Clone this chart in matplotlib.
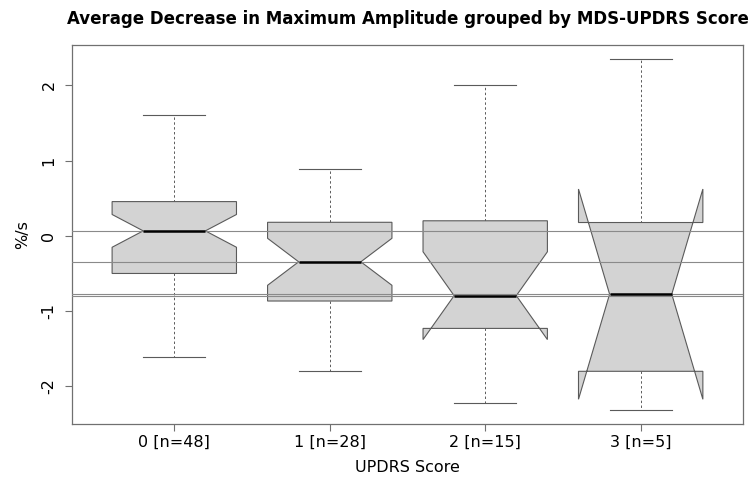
import numpy as np
import matplotlib
matplotlib.use("Agg")
import matplotlib.pyplot as plt
from matplotlib.patches import Polygon

# Group summaries (five-number summaries per UPDRS score)
labels = ["0 [n=48]", "1 [n=28]", "2 [n=15]", "3 [n=5]"]
counts = [48, 28, 15, 5]
whisker_low = [-1.605, -1.79, -2.22, -2.31]
q1 = [-0.50, -0.866, -1.23, -1.80]
medians = [0.066, -0.345, -0.795, -0.775]
q3 = [0.455, 0.18, 0.20, 0.177]
whisker_high = [1.61, 0.889, 2.0, 2.35]

edge = "#5a5a5a"
fill = "#d3d3d3"
ref_col = "#8a8a8a"

fig = plt.figure(figsize=(7.53, 4.8), dpi=100)
ax = fig.add_axes([0.0952, 0.1167, 0.8919, 0.7902])

half = 0.4          # half box width
notch_frac = 0.5
staple = 0.2        # half cap width

for i in range(len(labels)):
    x = i + 1
    n = counts[i]
    iqr = q3[i] - q1[i]
    ci = 1.58 * iqr / np.sqrt(n)
    lo, hi = medians[i] - ci, medians[i] + ci
    xs = x + half * np.array([-1, 1, 1, notch_frac, 1, 1, -1, -1, -notch_frac, -1])
    ys = [q1[i], q1[i], lo, medians[i], hi, q3[i], q3[i], hi, medians[i], lo]
    ax.add_patch(Polygon(np.column_stack([xs, ys]), closed=True,
                         facecolor=fill, edgecolor=edge, linewidth=0.8, zorder=2))
    # whiskers
    ax.plot([x, x], [q3[i], whisker_high[i]], color=edge, lw=0.7,
            ls=(0, (2.5, 2.5)), zorder=1)
    ax.plot([x, x], [q1[i], whisker_low[i]], color=edge, lw=0.7,
            ls=(0, (2.5, 2.5)), zorder=1)
    # staples
    ax.plot([x - staple, x + staple], [whisker_high[i]] * 2, color=edge, lw=0.8, zorder=1)
    ax.plot([x - staple, x + staple], [whisker_low[i]] * 2, color=edge, lw=0.8, zorder=1)
    # median
    ax.plot([x - half * notch_frac, x + half * notch_frac], [medians[i]] * 2,
            color="black", lw=1.8, zorder=5, solid_capstyle="butt")

# reference lines at each group median
for m in medians:
    ax.axhline(m, color=ref_col, lw=0.8, zorder=4)

ax.set_xlim(0.34, 4.66)
ax.set_ylim(-2.50, 2.54)
ax.set_xticks(range(1, len(labels) + 1))
ax.set_xticklabels(labels)
ax.set_yticks([-2, -1, 0, 1, 2])
ax.set_yticklabels(["-2", "-1", "0", "1", "2"], rotation=90, va="center")

for s in ax.spines.values():
    s.set_color("#707070")
    s.set_linewidth(0.9)
ax.tick_params(axis="both", direction="out", length=5, width=0.8,
               color="#707070", labelsize=11.5, pad=6)
ax.tick_params(axis="x", pad=3)

ax.set_xlabel("UPDRS Score", fontsize=11.5, labelpad=7)
ax.set_ylabel("%/s", fontsize=11.5, labelpad=8)
ax.set_title("Average Decrease in Maximum Amplitude grouped by MDS-UPDRS Score",
             fontsize=12, fontweight="bold", pad=15)

fig.savefig("out.png", dpi=100)
